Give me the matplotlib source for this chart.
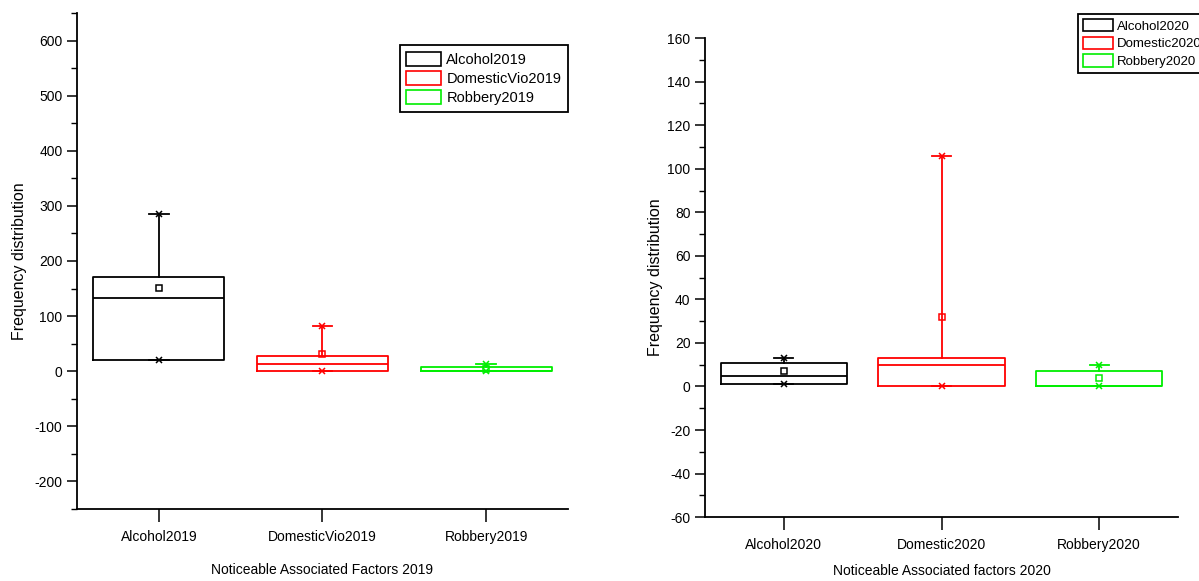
import matplotlib
matplotlib.use("Agg")
import matplotlib.pyplot as plt
from matplotlib.patches import Patch
from matplotlib.ticker import MultipleLocator

plt.rcParams['font.family'] = ['Liberation Sans', 'DejaVu Sans']
plt.rcParams['axes.unicode_minus'] = False

# 2019 panel
labels_2019 = ["Alcohol2019", "DomesticVio2019", "Robbery2019"]
q1_2019 = [20, 0, 0]
med_2019 = [133, 13, 1]
q3_2019 = [171, 28, 7]
mean_2019 = [151, 32, 4]
min_2019 = [20, 0, 0]
max_2019 = [285, 82, 13]

# 2020 panel
labels_2020 = ["Alcohol2020", "Domestic2020", "Robbery2020"]
q1_2020 = [1, 0, 0]
med_2020 = [5, 10, 0]
q3_2020 = [11, 13, 7]
mean_2020 = [7, 32, 4]
min_2020 = [1, 0, 0]
max_2020 = [13, 106, 10]

colors = ["black", "#ff0000", "#00ee00"]


def draw_panel(ax, labels, q1, med, q3, mean, mins, maxs, xlabel, ylim, major, minor,
               xpad=14, ypad=8):
    for i in range(len(labels)):
        stats = [{
            "label": labels[i],
            "q1": q1[i], "med": med[i], "q3": q3[i], "mean": mean[i],
            "whislo": mins[i], "whishi": maxs[i],
            "fliers": [mins[i], maxs[i]],
        }]
        c = colors[i]
        ax.bxp(stats, positions=[i + 1], widths=0.8, capwidths=0.12,
               showmeans=True, showfliers=True,
               boxprops=dict(color=c, linewidth=1.3),
               medianprops=dict(color=c, linewidth=1.3),
               whiskerprops=dict(color=c, linewidth=1.3),
               capprops=dict(color=c, linewidth=1.3),
               meanprops=dict(marker="s", markersize=4, markerfacecolor="none",
                              markeredgecolor=c, markeredgewidth=1.1),
               flierprops=dict(marker="x", markersize=4, markeredgecolor=c,
                               markeredgewidth=1.1))
    ax.set_xlim(0.5, 3.5)
    ax.set_ylim(*ylim)
    ax.set_xticks([1, 2, 3])
    ax.set_xticklabels(labels, fontsize=10)
    ax.yaxis.set_major_locator(MultipleLocator(major))
    ax.yaxis.set_minor_locator(MultipleLocator(minor))
    ax.tick_params(axis="y", labelsize=10, length=7, width=1.1, direction="out")
    ax.tick_params(axis="y", which="minor", length=4, width=1.0)
    ax.tick_params(axis="x", length=9, width=1.1, pad=6)
    for side in ["top", "right"]:
        ax.spines[side].set_visible(False)
    for side in ["left", "bottom"]:
        ax.spines[side].set_linewidth(1.3)
    ax.set_ylabel("Frequency distribution", fontsize=11.5, labelpad=ypad)
    ax.set_xlabel(xlabel, fontsize=10, labelpad=xpad)
    handles = [Patch(facecolor="white", edgecolor=colors[i], linewidth=1.2, label=labels[i])
               for i in range(len(labels))]
    return handles


fig = plt.figure(figsize=(11.99, 5.81), dpi=100)
ax1 = fig.add_axes([0.0642, 0.124, 0.4095, 0.8536])
ax2 = fig.add_axes([0.588, 0.110, 0.3945, 0.8244])

h1 = draw_panel(ax1, labels_2019, q1_2019, med_2019, q3_2019, mean_2019, min_2019, max_2019,
                "Noticeable Associated Factors 2019", (-250, 650), 100, 50,
                xpad=14, ypad=5)
h2 = draw_panel(ax2, labels_2020, q1_2020, med_2020, q3_2020, mean_2020, min_2020, max_2020,
                "Noticeable Associated factors 2020", (-60, 160), 20, 10,
                xpad=9, ypad=3)

leg1 = ax1.legend(handles=h1, loc="upper right", bbox_to_anchor=(1.0, 0.935),
                  fontsize=10.5, fancybox=False, edgecolor="black", framealpha=1,
                  handlelength=2.4, handleheight=1.1, borderpad=0.45, labelspacing=0.3,
                  handletextpad=0.35, borderaxespad=0)
leg1.get_frame().set_linewidth(1.3)
leg2 = ax2.legend(handles=h2, loc="upper left", bbox_to_anchor=(0.789, 1.05),
                  fontsize=9.5, fancybox=False, edgecolor="black", framealpha=1,
                  handlelength=2.3, handleheight=1.1, borderpad=0.35, labelspacing=0.3,
                  handletextpad=0.25, borderaxespad=0)
leg2.get_frame().set_linewidth(1.3)

fig.savefig("out.png", dpi=100)
